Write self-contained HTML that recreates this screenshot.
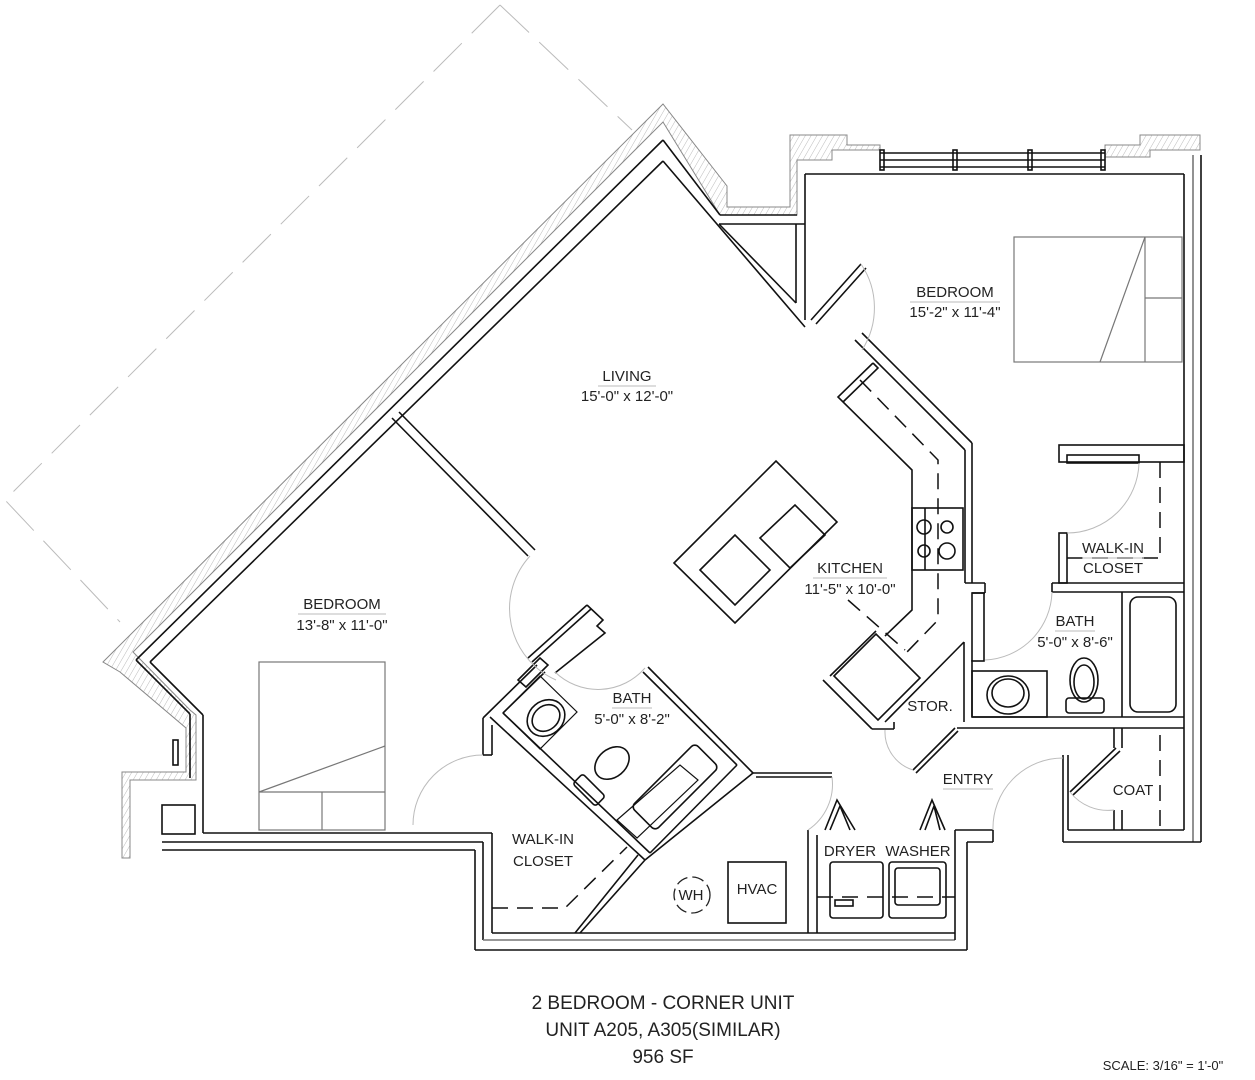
<!DOCTYPE html>
<html><head><meta charset="utf-8"><style>
html,body{margin:0;padding:0;background:#fff;}
svg{display:block;}
text{font-family:"Liberation Sans",sans-serif;fill:#222;}
</style></head><body>
<svg width="1255" height="1080" viewBox="0 0 1255 1080" xmlns="http://www.w3.org/2000/svg">
<defs>
<pattern id="h" width="5" height="5" patternUnits="userSpaceOnUse" patternTransform="rotate(30)">
<line x1="0" y1="0" x2="0" y2="5" stroke="#aaa" stroke-width="0.8"/></pattern>
</defs>
<g fill="none" stroke="#bbb" stroke-width="1" stroke-dasharray="40,14">
<path d="M500,5 L5,500 L120,622"/>
<path d="M500,5 L632,130"/>
</g>
<!-- hatched exterior band left diagonal -->
<polygon points="103,662 663,104 727,186 727,207 790,207 790,135 847,135 847,145 880,145 880,150 832,150 832,160 797,160 797,215 720,215 663,122 133,652 190,710 196,715 196,780 130,780 130,858 122,858 122,772 186,772 186,728 120,672" fill="url(#h)" stroke="#888" stroke-width="1"/>
<polygon points="1105,145 1140,145 1140,135 1200,135 1200,150 1150,150 1150,157 1105,157" fill="url(#h)" stroke="#888" stroke-width="1"/>
<g stroke="#111" stroke-width="1.6" fill="none">
<!-- left exterior wall lines -->
<line x1="150" y1="662" x2="663" y2="161"/>
<line x1="136" y1="660" x2="663" y2="140"/>
<line x1="150" y1="662" x2="203" y2="715"/>
<line x1="203" y1="715" x2="203" y2="833"/>
<line x1="136" y1="660" x2="190" y2="714"/>
<line x1="190" y1="714" x2="190" y2="778"/>
<!-- peak right side -->
<line x1="663" y1="161" x2="805" y2="327"/>
<line x1="663" y1="140" x2="720" y2="215"/>
<line x1="719" y1="224" x2="796" y2="303"/>
<line x1="719" y1="224" x2="805" y2="224"/>
<line x1="796" y1="224" x2="796" y2="303"/>
<line x1="805" y1="174" x2="805" y2="320"/>
<line x1="720" y1="215" x2="797" y2="215"/>
<!-- top bedroom wall -->
<line x1="805" y1="174" x2="1184" y2="174"/>
<line x1="880" y1="153" x2="1105" y2="153"/>
<line x1="880" y1="167" x2="1105" y2="167"/>
<line x1="880" y1="160" x2="1105" y2="160"/>
<rect x="880" y="150" width="4" height="20"/>
<rect x="953" y="150" width="4" height="20"/>
<rect x="1028" y="150" width="4" height="20"/>
<rect x="1101" y="150" width="4" height="20"/>
<!-- right exterior -->
<line x1="1184" y1="174" x2="1184" y2="830"/>
<line x1="1193" y1="155" x2="1193" y2="842" stroke="#777"/>
<line x1="1201" y1="155" x2="1201" y2="842"/>
<!-- bottom walls -->
<line x1="203" y1="833" x2="492" y2="833"/>
<line x1="162" y1="842" x2="483" y2="842"/>
<line x1="162" y1="850" x2="475" y2="850"/>
<line x1="492" y1="833" x2="492" y2="933"/>
<line x1="483" y1="842" x2="483" y2="940"/>
<line x1="475" y1="850" x2="475" y2="950"/>
<line x1="492" y1="933" x2="955" y2="933"/>
<line x1="483" y1="940" x2="955" y2="940" stroke="#777"/>
<line x1="475" y1="950" x2="967" y2="950"/>
<line x1="955" y1="830" x2="955" y2="940"/>
<line x1="967" y1="842" x2="967" y2="950"/>
<line x1="955" y1="830" x2="993" y2="830"/>
<line x1="967" y1="842" x2="993" y2="842"/>
<line x1="993" y1="830" x2="993" y2="842"/>
<line x1="808" y1="830" x2="808" y2="933"/>
<line x1="817" y1="835" x2="817" y2="933"/>
<rect x="162" y="805" width="33" height="29"/>
<rect x="173" y="740" width="5" height="25"/>
<!-- coat -->
<line x1="1063" y1="755" x2="1063" y2="842"/>
<line x1="1068" y1="755" x2="1068" y2="830"/>
<line x1="1068" y1="830" x2="1184" y2="830"/>
<line x1="1063" y1="842" x2="1201" y2="842"/>
<line x1="1114" y1="728" x2="1114" y2="748"/><line x1="1122" y1="728" x2="1122" y2="748"/>
<line x1="1114" y1="810" x2="1114" y2="830"/><line x1="1122" y1="810" x2="1122" y2="830"/>
<line x1="1116" y1="748" x2="1070" y2="792"/><line x1="1120" y1="751" x2="1073" y2="795"/>
<!-- bedroom-living divider -->
<line x1="392" y1="418" x2="528" y2="556"/>
<line x1="399" y1="412" x2="535" y2="550"/>
<!-- bedroom door -->
<line x1="861" y1="264" x2="811" y2="320"/><line x1="866" y1="268" x2="816" y2="324"/>
<!-- kitchen wall -->
<line x1="855" y1="340" x2="965" y2="450"/>
<line x1="862" y1="333" x2="972" y2="443"/>
<line x1="965" y1="450" x2="965" y2="583"/>
<line x1="972" y1="443" x2="972" y2="583"/>
<line x1="965" y1="583" x2="985" y2="583"/>
<line x1="972" y1="593" x2="985" y2="593"/><line x1="985" y1="583" x2="985" y2="593"/>
<rect x="972" y="593" width="12" height="68"/>
<line x1="964" y1="642" x2="964" y2="722"/>
<line x1="972" y1="660" x2="972" y2="717"/>
<line x1="972" y1="717" x2="1184" y2="717"/>
<line x1="957" y1="728" x2="1184" y2="728"/>
<line x1="885" y1="722" x2="964" y2="642"/>
<line x1="823" y1="680" x2="872" y2="729"/>
<line x1="872" y1="729" x2="894" y2="729"/>
<line x1="894" y1="729" x2="894" y2="722"/>
<line x1="830" y1="676" x2="876" y2="631"/>
<line x1="955" y1="728" x2="913" y2="770"/><line x1="958" y1="731" x2="916" y2="773"/>
<!-- counter -->
<polyline points="873,363 838,397 912,470 912,610 885,636"/>
<polyline points="873,363 878,368 843,402"/>
<rect x="912" y="508" width="51" height="62"/>
<line x1="925" y1="508" x2="925" y2="570"/>
<circle cx="924" cy="527" r="7"/><circle cx="947" cy="527" r="6"/>
<circle cx="924" cy="551" r="6"/><circle cx="947" cy="551" r="8"/>
<polygon points="834,676 876,634 920,678 878,720"/>
<!-- right closet/bath -->
<rect x="1059" y="445" width="125" height="17"/>
<rect x="1067" y="455" width="72" height="8"/>
<rect x="1059" y="533" width="8" height="50"/>
<line x1="1052" y1="583" x2="1184" y2="583"/><line x1="1052" y1="592" x2="1184" y2="592"/>
<line x1="1052" y1="583" x2="1052" y2="592"/>
<rect x="972" y="671" width="75" height="46"/>
<ellipse cx="1008" cy="695" rx="21" ry="19"/><ellipse cx="1008" cy="693" rx="16" ry="14"/>
<ellipse cx="1084" cy="680" rx="14" ry="22"/><ellipse cx="1084" cy="682" rx="10" ry="17"/>
<rect x="1066" y="698" width="38" height="15" rx="3"/>
<line x1="1122" y1="592" x2="1122" y2="717"/>
<rect x="1130" y="597" width="46" height="115" rx="8"/>
<!-- left bath -->
<line x1="503" y1="713" x2="650" y2="853"/>
<line x1="490" y1="717" x2="645" y2="860"/>
<line x1="648" y1="667" x2="753" y2="773"/>
<line x1="643" y1="672" x2="737" y2="765"/>
<line x1="650" y1="853" x2="737" y2="765"/>
<line x1="645" y1="860" x2="753" y2="773"/>
<line x1="483" y1="718" x2="537" y2="665"/>
<line x1="503" y1="713" x2="545" y2="672"/>
<line x1="483" y1="718" x2="483" y2="755"/><line x1="492" y1="725" x2="492" y2="755"/><line x1="483" y1="755" x2="492" y2="755"/>
<line x1="645" y1="860" x2="580" y2="933"/>
<line x1="638" y1="855" x2="575" y2="933"/>
<line x1="753" y1="773" x2="832" y2="773"/><line x1="756" y1="777" x2="832" y2="777"/>
<line x1="528" y1="658" x2="587" y2="605"/><line x1="532" y1="662" x2="591" y2="609"/>
<polyline points="587,605 603,620 597,626 605,633 555,673"/>
<polygon points="518,680 540,658 548,665 526,687"/>
<polygon points="503,713 540,676 577,712 540,749" stroke-width="1.2"/>
<ellipse cx="546" cy="718" rx="20" ry="17" transform="rotate(-40 546 718)"/>
<ellipse cx="546" cy="718" rx="15" ry="12" transform="rotate(-40 546 718)"/>
<ellipse cx="612" cy="763" rx="19" ry="14" transform="rotate(-40 612 763)"/>
<rect x="573" y="783" width="32" height="14" rx="3" transform="rotate(45 589 790)"/>
<polygon points="617,820 680,765 698,780 637,838" stroke-width="1.2"/>
<rect x="630" y="770" width="90" height="34" rx="5" transform="rotate(-45 675 787) translate(0,0)"/>
<!-- island -->
<polygon points="674,563 776,461 837,522 735,623"/>
<polygon points="700,570 735,535 770,570 735,605"/>
<polygon points="760,538 795,505 825,535 790,568"/>
<!-- laundry -->
<rect x="830" y="862" width="53" height="56" rx="3"/>
<rect x="889" y="862" width="57" height="56" rx="3"/>
<rect x="895" y="868" width="45" height="37" rx="3"/>
<rect x="835" y="900" width="18" height="6"/>
<polyline points="825,830 837,800 855,830"/><polyline points="830,830 840,806 850,830"/>
<polyline points="920,830 932,800 945,830"/><polyline points="925,830 934,806 940,830"/>
<!-- hvac -->
<rect x="728" y="862" width="58" height="61"/>
<!-- bed left -->
<rect x="259" y="662" width="126" height="168" stroke="#777" stroke-width="1.2"/>
<line x1="259" y1="792" x2="385" y2="746" stroke="#777" stroke-width="1.2"/>
<line x1="259" y1="792" x2="385" y2="792" stroke="#777" stroke-width="1.2"/>
<line x1="322" y1="792" x2="322" y2="830" stroke="#777" stroke-width="1.2"/>
<!-- bed right -->
<rect x="1014" y="237" width="168" height="125" stroke="#777" stroke-width="1.2"/>
<line x1="1145" y1="237" x2="1145" y2="362" stroke="#777" stroke-width="1.2"/>
<line x1="1145" y1="237" x2="1100" y2="362" stroke="#777" stroke-width="1.2"/>
<line x1="1145" y1="298" x2="1182" y2="298" stroke="#777" stroke-width="1.2"/>
</g>
<!-- dashed -->
<g stroke="#111" stroke-width="1.5" fill="none" stroke-dasharray="16,9">
<polyline points="860,380 938,460 938,620 907,652"/>
<line x1="1160" y1="462" x2="1160" y2="560"/>
<line x1="1067" y1="558" x2="1160" y2="558"/>
<line x1="1160" y1="735" x2="1160" y2="830"/>
<polyline points="492,908 565,908 627,847"/>
<line x1="817" y1="897" x2="955" y2="897"/>
<line x1="848" y1="600" x2="905" y2="650"/>
</g>
<circle cx="692" cy="895" r="18" fill="none" stroke="#222" stroke-width="1.3" stroke-dasharray="12,5"/>
<!-- door arcs -->
<g stroke="#bbb" stroke-width="1" fill="none">
<path d="M861,264 A78,78 0 0 1 862,350"/>
<path d="M530,556 A78,78 0 0 0 556,680"/>
<path d="M555,672 A62,62 0 0 0 645,668"/>
<path d="M413,825 A70,70 0 0 1 483,755"/>
<path d="M1139,463 A72,72 0 0 1 1067,533"/>
<path d="M985,660 A70,70 0 0 0 1052,592"/>
<path d="M885,730 A40,40 0 0 0 913,770"/>
<path d="M993,830 A70,70 0 0 1 1063,758"/>
<path d="M1070,792 A48,48 0 0 0 1114,810"/>
<path d="M832,777 A55,55 0 0 1 808,830"/>
</g>
<g font-size="15" text-anchor="middle">
<text x="627" y="381">LIVING</text><text x="627" y="401">15'-0" x 12'-0"</text>
<text x="955" y="297">BEDROOM</text><text x="955" y="317">15'-2" x 11'-4"</text>
<text x="850" y="573">KITCHEN</text><text x="850" y="594">11'-5" x 10'-0"</text>
<text x="1113" y="553">WALK-IN</text><text x="1113" y="573">CLOSET</text>
<text x="1075" y="626">BATH</text><text x="1075" y="647">5'-0" x 8'-6"</text>
<text x="342" y="609">BEDROOM</text><text x="342" y="630">13'-8" x 11'-0"</text>
<text x="632" y="703">BATH</text><text x="632" y="724">5'-0" x 8'-2"</text>
<text x="930" y="711">STOR.</text>
<text x="968" y="784">ENTRY</text>
<text x="1133" y="795">COAT</text>
<text x="543" y="844">WALK-IN</text><text x="543" y="866">CLOSET</text>
<text x="850" y="856">DRYER</text><text x="918" y="856">WASHER</text>
<text x="691" y="900">WH</text>
<text x="757" y="894">HVAC</text>
</g>
<g stroke="#bbb" stroke-width="1">
<line x1="598" y1="386" x2="656" y2="386"/><line x1="910" y1="302" x2="1000" y2="302"/>
<line x1="813" y1="578" x2="887" y2="578"/><line x1="1082" y1="558" x2="1144" y2="558"/>
<line x1="1055" y1="631" x2="1095" y2="631"/><line x1="298" y1="614" x2="386" y2="614"/>
<line x1="612" y1="708" x2="652" y2="708"/><line x1="943" y1="789" x2="993" y2="789"/>
</g>
<g font-size="19" text-anchor="middle">
<text x="663" y="1009">2 BEDROOM - CORNER UNIT</text>
<text x="663" y="1036">UNIT A205, A305(SIMILAR)</text>
<text x="663" y="1063">956 SF</text>
</g>
<text x="1163" y="1070" font-size="13" text-anchor="middle">SCALE: 3/16" = 1'-0"</text>
</svg>
</body></html>
